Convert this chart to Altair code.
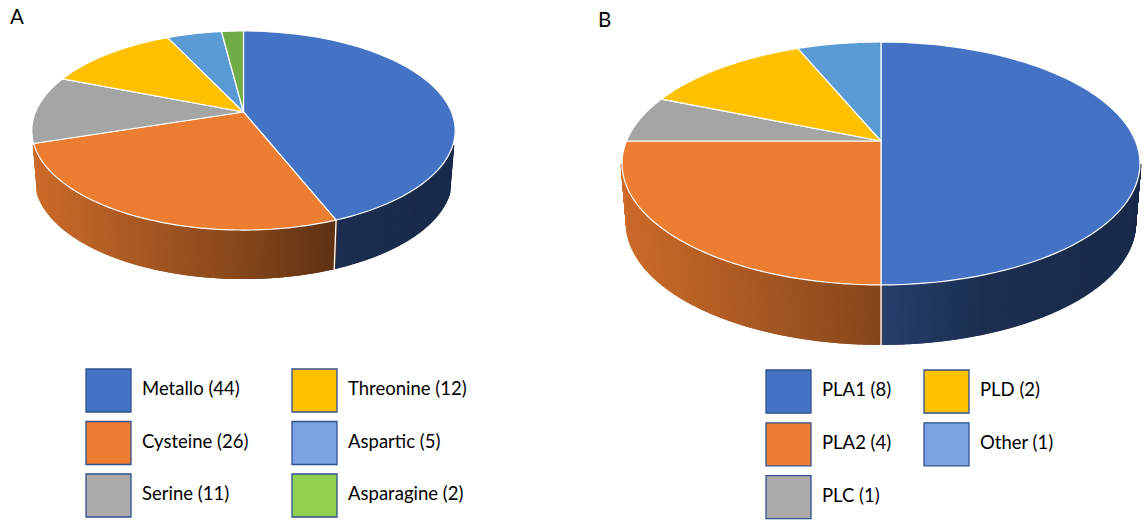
import altair as alt
import pandas as pd

# Panel A: protease families (counts)
families = ["Metallo", "Cysteine", "Serine", "Threonine", "Aspartic", "Asparagine"]
family_counts = [44, 26, 11, 12, 5, 2]

# Panel B: phospholipase classes (counts)
classes = ["PLA1", "PLA2", "PLC", "PLD", "Other"]
class_counts = [8, 4, 1, 2, 1]

panels = ["A", "B"]

# Office-style palette: slice tops and legend keys
top_colors = ["#4472C4", "#ED7D31", "#A5A5A5", "#FFC000", "#5B9BD5", "#70AD47"]
key_colors = ["#4472C4", "#ED7D31", "#AEAAAA", "#FFC000", "#7BA3DF", "#92D050"]


def hex_rgb(h):
    h = h.lstrip("#")
    return [int(h[i:i + 2], 16) for i in (0, 2, 4)]


rows = []
for pie, names, counts in (("A", families, family_counts), ("B", classes, class_counts)):
    for i, (name, n) in enumerate(zip(names, counts)):
        r, g, b = hex_rgb(top_colors[i])
        rows.append(dict(pie=pie, idx=i, label=name, value=n,
                         face=top_colors[i], key=key_colors[i], r=r, g=g, b=b))
slices = pd.DataFrame(rows)
titles = pd.DataFrame({"panel": panels})

W_PX, H_PX = 1148, 520
XS = alt.Scale(domain=[0, W_PX], nice=False, zero=False)
YS = alt.Scale(domain=[0, H_PX], nice=False, zero=False, reverse=True)

# Geometry of each tilted pie: apex, semi-axes, perspective factor, wall depth,
# how far round the sides the wall is drawn, legend and panel-letter placement.
layout = {
    "A": dict(cx=243.5, cy=112, sx=208.0, sy=96.1, p=0.186, depth=49, wall_cut=0.32,
              lx=86, ly=369, colstep=206, rowstep=52.5, tx=10, ty=24),
    "B": dict(cx=881, cy=141, sx=254.5, sy=117.3, p=0.185, depth=60, wall_cut=0.185,
              lx=766, ly=370, colstep=158, rowstep=52.8, tx=598, ty=27),
}

FONT = "Lato"

# brightness of the side wall across its width (lit from the left)
SHADE = ("datum.u < 0.5 ? 0.86 - 0.6*datum.u : "
         "(datum.u < 0.7 ? 0.56 - 0.75*(datum.u - 0.5) : max(0.38, 0.41 - 0.1*(datum.u - 0.7)))")


def proj_x(g, a):
    return f"{g['cx']} + {g['sx']}*sin({a})/(1 + {g['p']}*cos({a}))"


def proj_y(g, a):
    return f"{g['cy']} - {g['sy']}*cos({a})/(1 + {g['p']}*cos({a}))"


def pie_layers(pie):
    g = layout[pie]
    half_w = g["sx"] / (1 - g["p"] ** 2) ** 0.5
    left = g["cx"] - half_w

    base = (
        alt.Chart(slices)
        .transform_filter(alt.datum.pie == pie)
        .transform_window(cum="sum(value)", sort=[alt.SortField("idx")], frame=[None, 0])
        .transform_joinaggregate(total="sum(value)")
        .transform_calculate(a0="2*PI*(datum.cum - datum.value)/datum.total")
        .transform_calculate(a1="2*PI*datum.cum/datum.total")
    )

    # side wall: thin slanted rules along the front rim, shaded left to right
    wall = (
        base.transform_calculate(n="ceil((datum.a1 - datum.a0)/0.004)")
        .transform_calculate(k="sequence(0, datum.n + 1)")
        .transform_flatten(["k"])
        .transform_calculate(ang="datum.a0 + (datum.a1 - datum.a0)*datum.k/datum.n")
        .transform_filter(f"cos(datum.ang) < -{g['wall_cut']}")
        .transform_calculate(px=proj_x(g, "datum.ang"))
        .transform_calculate(py=proj_y(g, "datum.ang"))
        .transform_calculate(qx=f"{g['cx']} + (datum.px - {g['cx']})*0.98")
        .transform_calculate(qy=f"datum.py + {g['depth']}")
        .transform_calculate(u=f"clamp((datum.px - {left})/{2 * half_w}, 0, 1)")
        .transform_calculate(f=SHADE)
        .transform_calculate(
            shade="'rgb(' + round(datum.r*datum.f) + ',' + round(datum.g*datum.f)"
                  " + ',' + round(datum.b*datum.f) + ')'"
        )
        .mark_rule(strokeWidth=2.6, strokeCap="butt")
        .encode(
            x=alt.X("px:Q", scale=XS, axis=None),
            y=alt.Y("py:Q", scale=YS, axis=None),
            x2="qx:Q",
            y2="qy:Q",
            color=alt.Color("shade:N", scale=None),
        )
    )

    # white seams where slices meet on the visible wall
    seams = (
        base.transform_filter(f"cos(datum.a0) < -{g['wall_cut']}")
        .transform_calculate(px=proj_x(g, "datum.a0"))
        .transform_calculate(py=proj_y(g, "datum.a0"))
        .transform_calculate(qx=f"{g['cx']} + (datum.px - {g['cx']})*0.98")
        .transform_calculate(qy=f"datum.py + {g['depth']}")
        .mark_rule(color="white", strokeWidth=1.3)
        .encode(
            x=alt.X("px:Q", scale=XS, axis=None),
            y=alt.Y("py:Q", scale=YS, axis=None),
            x2="qx:Q",
            y2="qy:Q",
        )
    )

    # top face: one closed wedge per slice (apex -> rim arc -> apex)
    N = 90
    face = (
        base.transform_calculate(k=f"sequence(0, {N + 3})")
        .transform_flatten(["k"])
        .transform_calculate(ang=f"datum.a0 + (datum.a1 - datum.a0)*clamp(datum.k - 1, 0, {N})/{N}")
        .transform_calculate(rim=f"datum.k > 0 && datum.k < {N + 2}")
        .transform_calculate(px=f"datum.rim ? {proj_x(g, 'datum.ang')} : {g['cx']}")
        .transform_calculate(py=f"datum.rim ? {proj_y(g, 'datum.ang')} : {g['cy']}")
        .mark_line(filled=True, stroke="white", strokeWidth=1.2, strokeJoin="round")
        .encode(
            x=alt.X("px:Q", scale=XS, axis=None),
            y=alt.Y("py:Q", scale=YS, axis=None),
            fill=alt.Fill("face:N", scale=None),
            detail="label:N",
            order="k:Q",
        )
    )

    # legend: three rows per column
    leg = (
        alt.Chart(slices)
        .transform_filter(alt.datum.pie == pie)
        .transform_calculate(col="floor(datum.idx/3)")
        .transform_calculate(row="datum.idx % 3")
        .transform_calculate(bx=f"{g['lx']} + datum.col*{g['colstep']}")
        .transform_calculate(by=f"{g['ly']} + datum.row*{g['rowstep']}")
        .transform_calculate(bx2="datum.bx + 45")
        .transform_calculate(by2="datum.by + 43")
        .transform_calculate(tx="datum.bx + 56")
        .transform_calculate(ty="datum.by + 20")
        .transform_calculate(txt="datum.label + ' (' + datum.value + ')'")
    )
    swatch = leg.mark_rect(stroke="#2F528F", strokeWidth=1.3).encode(
        x=alt.X("bx:Q", scale=XS, axis=None),
        x2="bx2:Q",
        y=alt.Y("by:Q", scale=YS, axis=None),
        y2="by2:Q",
        fill=alt.Fill("key:N", scale=None),
    )
    label = leg.mark_text(
        align="left", baseline="middle", font=FONT, fontSize=18.5, color="#000000"
    ).encode(
        x=alt.X("tx:Q", scale=XS, axis=None),
        y=alt.Y("ty:Q", scale=YS, axis=None),
        text="txt:N",
    )

    letter = (
        alt.Chart(titles)
        .transform_filter(alt.datum.panel == pie)
        .transform_calculate(tx=str(g["tx"]), ty=str(g["ty"]))
        .mark_text(align="left", baseline="alphabetic", font=FONT, fontSize=20.5, color="#000000")
        .encode(
            x=alt.X("tx:Q", scale=XS, axis=None),
            y=alt.Y("ty:Q", scale=YS, axis=None),
            text="panel:N",
        )
    )

    return [wall, seams, face, swatch, label, letter]


layers = pie_layers("A") + pie_layers("B")

chart = (
    alt.layer(*layers)
    .properties(width=W_PX, height=H_PX, padding=0, autosize=alt.AutoSizeParams(type="none"),
                background="white")
    .configure_view(stroke=None)
)

chart.save("out.html", embed_options={"renderer": "svg", "actions": False})
